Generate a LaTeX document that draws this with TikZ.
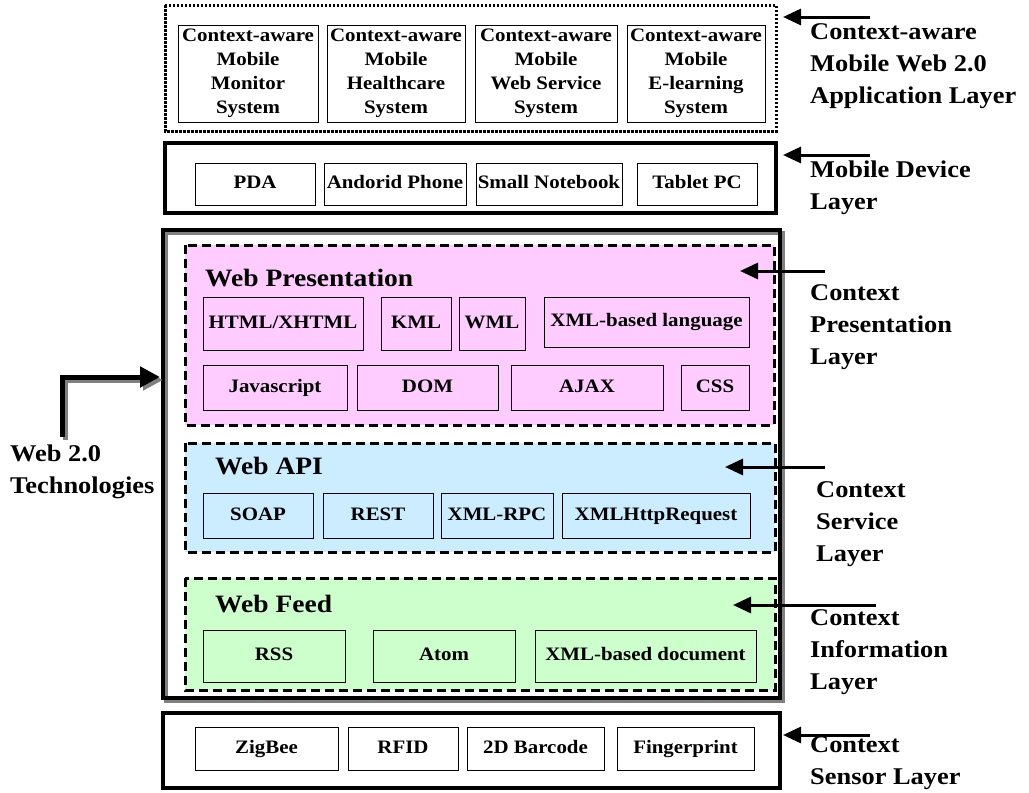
\documentclass[tikz,border=0pt]{standalone}
\usepackage{fontspec}
\setmainfont{Liberation Serif}[FakeStretch=1.1]
\usetikzlibrary{arrows.meta}
\usepackage{xcolor}

\definecolor{presfill}{RGB}{255,204,255}
\definecolor{apifill}{RGB}{204,236,255}
\definecolor{feedfill}{RGB}{204,255,204}

\begin{document}
\begin{tikzpicture}[x=1pt,y=-1pt,
	box/.style={draw, line width=1pt, inner sep=0pt, align=center, font=\fontsize{19}{24}\selectfont\bfseries},
	item/.style={box, text height=13.5pt, text depth=4.5pt},
	frame/.style={draw, line width=4pt},
	group/.style={draw, line width=3pt, dash pattern=on 9pt off 5pt},
	title/.style={anchor=base west, inner sep=0pt, font=\fontsize{25}{30}\selectfont\bfseries},
	tag/.style={anchor=west, inner sep=0pt, align=left, font=\fontsize{24}{32}\selectfont\bfseries},
	arr/.style={line width=3pt, -{Triangle[length=18pt,width=16pt]}}]
		\fill[white] (0,0) rectangle (1029,793);
		\useasboundingbox (0,0) rectangle (1029,793);

		% layers
		\draw[line width=3pt, dash pattern=on 2.5pt off 1.5pt] (165,5) rectangle (776,131);
		\draw[frame] (165,143) rectangle (776,213);
		\draw[gray, line width=4pt] (166,233) rectangle (783,701);
		\draw[frame] (163,230) rectangle (780,698);
		\draw[group, fill=presfill] (185,245) rectangle (774,425);
		\draw[group, fill=apifill] (185,443) rectangle (775,552);
		\draw[group, fill=feedfill] (185,578) rectangle (775,690);
		\draw[frame] (163,713) rectangle (780,788);

		\draw (248,73.5) node[box, minimum width=140pt, minimum height=97pt] (monitor) {Context-aware\\Mobile\\Monitor\\System}
		(396,73.5) node[box, minimum width=138pt, minimum height=97pt] (health) {Context-aware\\Mobile\\Healthcare\\System}
		(546,73.5) node[box, minimum width=142pt, minimum height=97pt] (websvc) {Context-aware\\Mobile\\Web Service\\System}
		(696,73.5) node[box, minimum width=138pt, minimum height=97pt] (elearn) {Context-aware\\Mobile\\E-learning\\System};

		\draw (255,184) node[item, minimum width=120pt, minimum height=42pt] (pda) {PDA}
		(395,184) node[item, minimum width=142pt, minimum height=42pt] (phone) {Andorid Phone}
		(549,184) node[item, minimum width=146pt, minimum height=42pt] (notebook) {Small Notebook}
		(697,184) node[item, minimum width=120pt, minimum height=42pt] (tablet) {Tablet PC};

		\node[title] (prestitle) at (205,286) {Web Presentation};
		\draw (283,323.5) node[item, minimum width=160pt, minimum height=53pt] (html) {HTML/XHTML}
		(416,323.5) node[item, minimum width=70pt, minimum height=53pt] (kml) {KML}
		(492,323.5) node[item, minimum width=66pt, minimum height=53pt] (wml) {WML}
		(646.5,322) node[item, minimum width=205pt, minimum height=50pt] (xmllang) {XML-based language}
		(275,387.5) node[item, minimum width=144pt, minimum height=45pt] (js) {Javascript}
		(427.5,387.5) node[item, minimum width=141pt, minimum height=45pt] (dom) {DOM}
		(587,387.5) node[item, minimum width=152pt, minimum height=45pt] (ajax) {AJAX}
		(715,387.5) node[item, minimum width=68pt, minimum height=45pt] (css) {CSS};

		\node[title] (apititle) at (215,474) {Web API};
		\draw (258,515.5) node[item, minimum width=110pt, minimum height=45pt] (soap) {SOAP}
		(378,515.5) node[item, minimum width=110pt, minimum height=45pt] (rest) {REST}
		(497,515.5) node[item, minimum width=112pt, minimum height=45pt] (xmlrpc) {XML-RPC}
		(656,515.5) node[item, minimum width=188pt, minimum height=45pt] (xhr) {XMLHttpRequest};

		\node[title] (feedtitle) at (215,612) {Web Feed};
		\draw (274,656) node[item, minimum width=142pt, minimum height=52pt] (rss) {RSS}
		(444,656) node[item, minimum width=142pt, minimum height=52pt] (atom) {Atom}
		(645.5,656) node[item, minimum width=221pt, minimum height=52pt] (xmldoc) {XML-based document};

		\draw (266.5,748.5) node[item, minimum width=143pt, minimum height=43pt] (zigbee) {ZigBee}
		(403,748.5) node[item, minimum width=110pt, minimum height=43pt] (rfid) {RFID}
		(535.5,748.5) node[item, minimum width=137pt, minimum height=43pt] (barcode) {2D Barcode}
		(685.5,748.5) node[item, minimum width=137pt, minimum height=43pt] (finger) {Fingerprint};

		% layer names
		\node[tag] (apptag) at (810,66) {Context-aware\\Mobile Web 2.0\\Application Layer};
		\node[tag] (devtag) at (810,188) {Mobile Device\\Layer};
		\node[tag] (prestag) at (810,327) {Context\\Presentation\\Layer};
		\node[tag] (svctag) at (816,524) {Context\\Service\\Layer};
		\node[tag] (infotag) at (810,652) {Context\\Information\\Layer};
		\node[tag] (sensetag) at (810,763) {Context\\Sensor Layer};
		\node[tag] (techtag) at (10,472) {Web 2.0\\Technologies};

		\coordinate (appfrom) at (870,17);   \coordinate (appto) at (783,17);
		\coordinate (devfrom) at (870,155);  \coordinate (devto) at (783,155);
		\coordinate (presfrom) at (825,271); \coordinate (presto) at (740,271);
		\coordinate (svcfrom) at (825,467);  \coordinate (svcto) at (725,467);
		\coordinate (infofrom) at (876,605); \coordinate (infoto) at (733,605);
		\coordinate (sensefrom) at (870,735);\coordinate (senseto) at (783,735);
		\coordinate (techfrom) at (62,437);  \coordinate (techto) at (160,377);

		\draw[arr] (appfrom) -- (appto);
		\draw[arr] (devfrom) -- (devto);
		\draw[arr] (presfrom) -- (presto);
		\draw[arr] (svcfrom) -- (svcto);
		\draw[arr] (infofrom) -- (infoto);
		\draw[arr] (sensefrom) -- (senseto);
		\draw[gray, line width=5pt, -{Triangle[length=20pt,width=20pt]}] ([shift={(3,3)}]techfrom) |- ([shift={(3,3)}]techto);
		\draw[line width=5pt, -{Triangle[length=20pt,width=20pt]}] (techfrom) |- (techto);
	\end{tikzpicture}
\end{document}
